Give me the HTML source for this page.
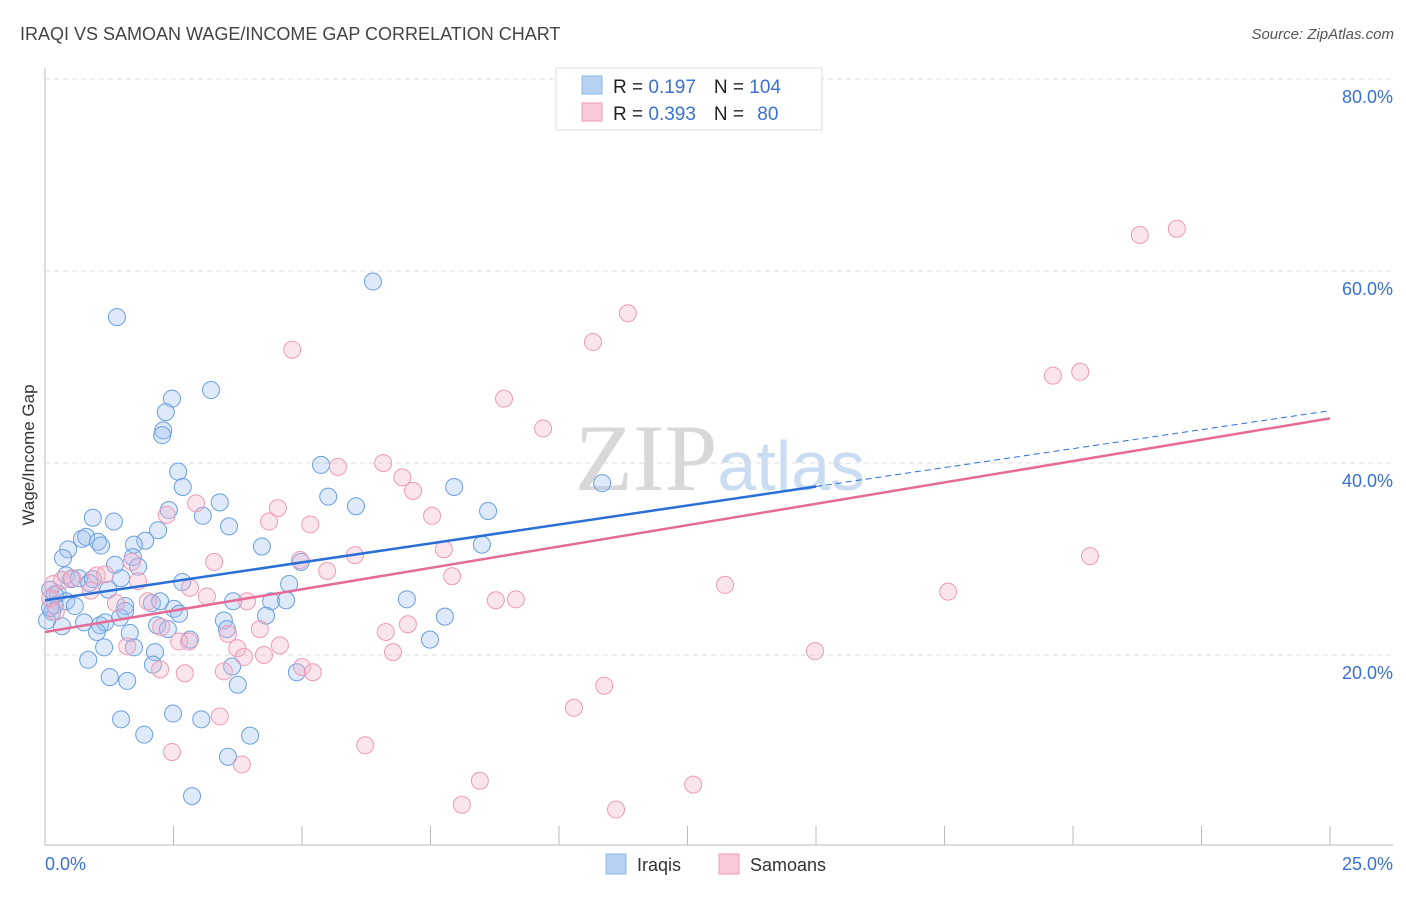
<!DOCTYPE html>
<html><head><meta charset="utf-8"><style>
body{margin:0;background:#fff;font-family:"Liberation Sans",sans-serif}
svg text{font-family:"Liberation Sans",sans-serif}
</style></head><body>
<svg id="chart" width="1406" height="892" viewBox="0 0 1406 892" xmlns="http://www.w3.org/2000/svg">
<text x="20" y="40" font-size="18" fill="#444">IRAQI VS SAMOAN WAGE/INCOME GAP CORRELATION CHART</text>
<text x="1394" y="39" font-size="15" fill="#555" font-style="italic" text-anchor="end">Source: ZipAtlas.com</text>
<text x="720" y="490" font-size="95" text-anchor="middle" font-family="Liberation Serif" fill="#ddd"><tspan font-family="Liberation Serif" fill="#d8d8d8">ZIP</tspan><tspan font-family="Liberation Sans" font-size="70" fill="#c9dcf2">atlas</tspan></text>
<g id="grid"></g>
<g id="axes"></g>
<g id="pts"></g>
<g id="trends"></g>
<text transform="translate(34,455) rotate(-90)" font-size="17" fill="#333" text-anchor="middle">Wage/Income Gap</text>
<g>
<rect x="556" y="68" width="266" height="62" fill="#fff" stroke="#ddd"/>
<rect x="582" y="76" width="20" height="18" fill="#b7d1f3" stroke="#8db4ea"/>
<rect x="582" y="103" width="20" height="18" fill="#f9c9d8" stroke="#ef9ab5"/>
<text x="613" y="93" font-size="19" fill="#222">R = <tspan fill="#3a70d0"> 0.197</tspan><tspan dx="18">N = </tspan><tspan fill="#3a70d0">104</tspan></text>
<text x="613" y="120" font-size="19" fill="#222">R = <tspan fill="#3a70d0">0.393</tspan><tspan dx="18">N = </tspan><tspan fill="#3a70d0" dx="8">80</tspan></text>
</g>
<g>
<rect x="606" y="854" width="20" height="20" fill="#b7d1f3" stroke="#8db4ea"/>
<text x="637" y="871" font-size="18" fill="#333">Iraqis</text>
<rect x="719" y="854" width="20" height="20" fill="#f9c9d8" stroke="#ef9ab5"/>
<text x="750" y="871" font-size="18" fill="#333">Samoans</text>
</g>
</svg>
<script>
const xTickLabels=["0.0%","25.0%"];
const yTicks=[20,40,60,80];
const iraqiX=[1.40,6.38,3.23,2.47,2.35,2.30,2.28,2.59,2.68,5.37,7.96,10.84,0.93,1.34,3.40,2.41,3.07,5.51,6.05,8.62,3.58,2.20,0.45,0.72,0.80,1.03,1.09,1.95,1.73,4.22,8.50,0.35,1.71,1.81,1.36,0.41,0.51,0.66,0.86,0.93,1.23,1.48,2.67,4.75,4.98,0.10,0.25,0.41,0.19,0.58,1.56,2.08,2.24,2.51,2.61,3.66,4.40,4.69,7.04,0.14,0.04,0.33,0.76,1.07,1.17,1.46,1.56,1.01,1.65,2.18,2.39,2.82,3.48,3.54,4.30,7.78,7.49,1.15,1.73,2.14,2.10,0.84,1.26,1.60,3.75,3.64,4.90,1.48,2.49,3.04,1.93,3.99,3.56,2.86,0.10,0.19];
const iraqiY=[55.2,58.9,47.6,46.7,45.3,43.4,42.9,39.1,37.5,39.8,37.5,37.9,34.3,33.9,35.9,35.1,34.5,36.5,35.5,35.0,33.4,33.0,31.0,32.1,32.3,31.8,31.4,31.9,31.5,31.3,31.5,30.1,30.2,29.2,29.4,28.3,27.9,28.0,27.5,27.9,26.8,28.0,27.6,27.4,29.7,26.8,26.4,25.6,25.2,25.1,25.1,25.4,25.6,24.8,24.3,25.6,25.6,25.7,25.8,24.5,23.6,23.0,23.4,23.1,23.4,23.9,24.6,22.4,22.3,23.1,22.7,21.6,23.6,22.7,24.1,24.0,21.6,20.8,20.8,20.3,19.0,19.5,17.7,17.3,16.9,18.8,18.2,13.3,13.9,13.3,11.7,11.6,9.4,5.3,24.9,26.3];
const samoanX=[22.02,21.30,11.34,10.66,4.81,20.14,19.61,8.93,9.69,5.70,6.58,6.95,7.16,7.53,2.94,2.37,4.36,4.53,5.16,6.03,7.76,20.33,3.29,5.49,7.92,13.23,17.57,8.77,9.16,0.16,0.33,0.53,1.01,1.17,1.69,1.81,0.89,0.10,0.21,1.38,2.00,3.15,2.82,3.93,2.26,4.18,3.56,2.80,2.61,1.60,3.74,4.57,3.87,4.26,6.77,6.63,7.06,5.00,5.21,2.72,3.48,2.24,14.98,10.88,10.29,3.40,2.47,3.83,6.23,8.46,8.11,12.61,11.11,4.96];
const samoanY=[64.4,63.75,55.6,52.6,51.8,49.5,49.1,46.7,43.6,39.6,40.0,38.5,37.1,34.5,35.8,34.6,33.9,35.3,33.6,30.4,31.0,30.3,29.7,28.75,28.2,27.3,26.6,25.7,25.8,27.4,27.8,28.0,28.3,28.4,29.7,27.7,26.7,25.9,24.5,25.4,25.6,26.1,27.0,25.6,22.9,22.7,22.2,21.4,21.4,20.9,20.7,21.0,19.8,20.0,20.3,22.4,23.2,18.75,18.2,18.1,18.3,18.5,20.4,16.8,14.5,13.6,9.9,8.6,10.6,6.9,4.4,6.5,3.9,29.9];
const iraqiTrend=[25.7,0.79];
const samoanTrend=[22.4,0.89];
const iraqiSolidEnd=15;
const NS="http://www.w3.org/2000/svg";
const X0=45,X1=1330,Y0=847,PPY=9.6;
function sx(v){return X0+(X1-X0)*v/25;}
function sy(v){return Y0-v*PPY;}
function mk(tag,attrs,parent){const e=document.createElementNS(NS,tag);for(const k in attrs)e.setAttribute(k,attrs[k]);parent.appendChild(e);return e;}
const grid=document.getElementById('grid'),axes=document.getElementById('axes');
yTicks.forEach(t=>{
 const l=mk('line',{x1:45,x2:1393,y1:sy(t),y2:sy(t),stroke:'#ddd','stroke-dasharray':'5,4'},grid);
 
 
 const tx=mk('text',{x:1393,y:sy(t)+24,'font-size':18,fill:'#3a70d0','text-anchor':'end'},axes);
 tx.textContent=t.toFixed(1)+'%';
 
 
});
mk('line',{x1:45,x2:45,y1:68,y2:845,stroke:'#bbb'},axes);
mk('line',{x1:45,x2:1393,y1:845,y2:845,stroke:'#bbb'},axes);
for(let i=1;i<=10;i++){const x=sx(i*2.5);const t=mk('line',{x1:x,x2:x,y1:826,y2:845,stroke:'#bbb'},axes);
 
 }
const xl0=mk('text',{x:45,y:870,'font-size':18,fill:'#3a70d0'},axes);xl0.textContent=xTickLabels[0];


const xl1=mk('text',{x:1393,y:870,'font-size':18,fill:'#3a70d0','text-anchor':'end'},axes);xl1.textContent=xTickLabels[1];


const pts=document.getElementById('pts');
iraqiX.forEach((v,i)=>{const c=mk('circle',{cx:sx(v),cy:sy(iraqiY[i]),r:8.5,fill:'rgba(160,196,240,0.35)',stroke:'#6a9fe0','stroke-width':1},pts);
 
 });
samoanX.forEach((v,i)=>{const c=mk('circle',{cx:sx(v),cy:sy(samoanY[i]),r:8.5,fill:'rgba(244,180,200,0.35)',stroke:'#ef9ab5','stroke-width':1},pts);
 
 });
const tr=document.getElementById('trends');
const f=(t,x)=>t[0]+t[1]*x;
const b1=mk('line',{x1:sx(0),y1:sy(f(iraqiTrend,0)),x2:sx(iraqiSolidEnd),y2:sy(f(iraqiTrend,iraqiSolidEnd)),stroke:'#2a6fd6','stroke-width':2.5},tr);


const b2=mk('line',{x1:sx(iraqiSolidEnd),y1:sy(f(iraqiTrend,iraqiSolidEnd)),x2:sx(25),y2:sy(f(iraqiTrend,25)),stroke:'#2a6fd6','stroke-width':1,'stroke-dasharray':'6,4'},tr);


const p1=mk('line',{x1:sx(0),y1:sy(f(samoanTrend,0)),x2:sx(25),y2:sy(f(samoanTrend,25)),stroke:'#e56b96','stroke-width':2.5},tr);


</script>
</body></html>
